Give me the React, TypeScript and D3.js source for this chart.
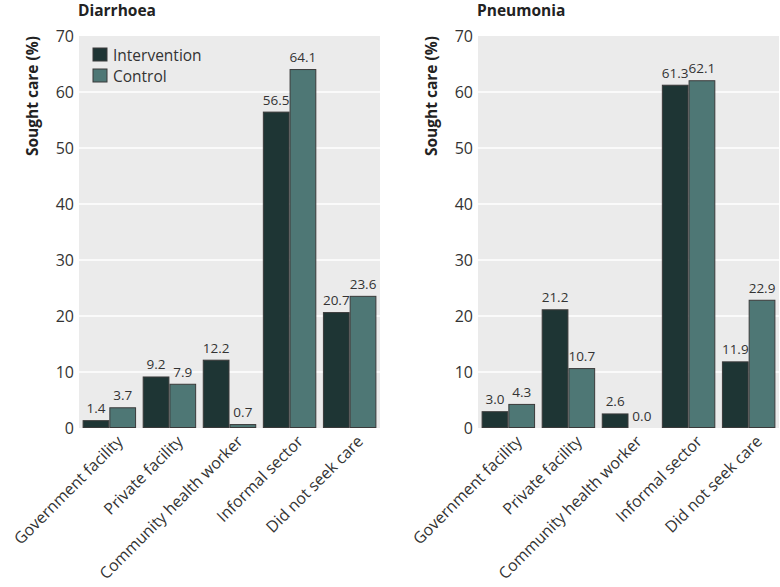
import React, { useEffect, useRef } from "react";
import * as d3 from "d3";

const categories = [
  "Government facility",
  "Private facility",
  "Community health worker",
  "Informal sector",
  "Did not seek care",
];
const series = ["Intervention", "Control"];
const diarrhoeaIntervention = [1.4, 9.2, 12.2, 56.5, 20.7];
const diarrhoeaControl = [3.7, 7.9, 0.7, 64.1, 23.6];
const pneumoniaIntervention = [3.0, 21.2, 2.6, 61.3, 11.9];
const pneumoniaControl = [4.3, 10.7, 0.0, 62.1, 22.9];
const yTicks = [0, 10, 20, 30, 40, 50, 60, 70];

const FONT = "'Open Sans', sans-serif";
const colors = ["#1e3534", "#4e7775"];
const margin = { top: 36, bottom: 159, left: 79, right: 0 };
const panelWidth = 399;
const plotWidth = 301;
const height = 587;

function Panel(props: Props) {
  const ref = useRef(null);

  useEffect(() => {
    const g = d3.select(ref.current);
    g.selectAll("*").remove();

    const chartHeight = height - margin.top - margin.bottom;
    const x0 = d3
      .scaleBand()
      .domain(categories)
      .range([margin.left, margin.left + plotWidth])
      .paddingInner(0.11)
      .paddingOuter(0.06);
    const x1 = d3
      .scaleBand()
      .domain(series)
      .range([0, x0.bandwidth()])
      .padding(0);
    const y = d3
      .scaleLinear()
      .domain([0, 70])
      .range([margin.top + chartHeight, margin.top]);

    g.append("rect")
      .attr("x", margin.left)
      .attr("y", margin.top)
      .attr("width", plotWidth)
      .attr("height", chartHeight)
      .attr("fill", "#ebebeb");

    g.append("g")
      .selectAll("line")
      .data(yTicks.slice(1, -1))
      .enter()
      .append("line")
      .attr("x1", margin.left)
      .attr("x2", margin.left + plotWidth)
      .attr("y1", (d) => y(d))
      .attr("y2", (d) => y(d))
      .attr("stroke", "#fff")
      .attr("stroke-width", 1.6);

    g.append("g")
      .selectAll("text")
      .data(yTicks)
      .enter()
      .append("text")
      .attr("x", margin.left - 5)
      .attr("y", (d) => y(d))
      .attr("dy", "0.36em")
      .attr("text-anchor", "end")
      .attr("font-size", 16)
      .attr("fill", "#333")
      .text((d) => d);

    g.append("text")
      .attr("transform", "translate(" + (margin.left - 41) + "," + margin.top + ") rotate(-90)")
      .attr("text-anchor", "end")
      .attr("font-size", 15.5)
      .attr("font-weight", "bold")
      .attr("fill", "#222")
      .text("Sought care (%)");

    g.append("text")
      .attr("x", margin.left - 1)
      .attr("y", 16)
      .attr("font-size", 15.5)
      .attr("font-weight", "bold")
      .attr("fill", "#222")
      .text(props.title);

    const rows = categories.map((c, i) => ({
      category: c,
      values: [props.intervention[i], props.control[i]],
    }));

    const groups = g
      .append("g")
      .selectAll("g")
      .data(rows)
      .enter()
      .append("g")
      .attr("transform", (d) => "translate(" + x0(d.category) + ",0)");

    groups
      .selectAll("rect")
      .data((d) => d.values.map((v, k) => ({ key: series[k], value: v, k })))
      .enter()
      .append("rect")
      .attr("x", (d) => (x1(d.key) as number) + 0.5)
      .attr("y", (d) => y(d.value) + 0.5)
      .attr("width", x1.bandwidth() - 1)
      .attr("height", (d) => Math.max(0, y(0) - y(d.value) - 1))
      .attr("fill", (d) => colors[d.k])
      .attr("stroke", (d) => (d.value > 0 ? "#3a3a3a" : "none"))
      .attr("stroke-width", 1);

    groups
      .selectAll("text")
      .data((d) => d.values.map((v, k) => ({ key: series[k], value: v, k })))
      .enter()
      .append("text")
      .attr("x", (d) => (x1(d.key) as number) + x1.bandwidth() / 2)
      .attr("y", (d) => y(d.value) - 7)
      .attr("text-anchor", "middle")
      .attr("font-size", 13.5)
      .attr("fill", "#333")
      .text((d) => d.value.toFixed(1));

    g.append("g")
      .selectAll("text")
      .data(categories)
      .enter()
      .append("text")
      .attr(
        "transform",
        (d) =>
          "translate(" + ((x0(d) as number) + x0.bandwidth() / 2 + 6) + "," + (y(0) + 6) + ") rotate(-45)"
      )
      .attr("text-anchor", "end")
      .attr("dy", "0.75em")
      .attr("font-size", 16)
      .attr("fill", "#333")
      .text((d) => d);

    if (props.legend) {
      const lg = g
        .append("g")
        .selectAll("g")
        .data(series)
        .enter()
        .append("g")
        .attr("transform", (d, i) => "translate(" + (margin.left + 14) + "," + (margin.top + 12 + i * 21) + ")");
      lg.append("rect")
        .attr("width", 14)
        .attr("height", 13)
        .attr("fill", (d, i) => colors[i])
        .attr("stroke", "#3a3a3a");
      lg.append("text")
        .attr("x", 20)
        .attr("y", 7)
        .attr("dy", "0.36em")
        .attr("font-size", 15.5)
        .attr("fill", "#333")
        .text((d) => d);
    }
  }, [props]);

  return <g ref={ref} transform={"translate(" + props.offset + ",0)"} />;
}

interface Props {
  title: string;
  intervention: number[];
  control: number[];
  legend?: boolean;
  offset: number;
}

export default function App() {
  return (
    <svg
      width={780}
      height={height}
      style={{ position: "absolute", left: 0, top: 0, fontFamily: FONT, background: "#fff" }}
    >
      <Panel title="Diarrhoea" intervention={diarrhoeaIntervention} control={diarrhoeaControl} legend offset={0} />
      <Panel title="Pneumonia" intervention={pneumoniaIntervention} control={pneumoniaControl} offset={panelWidth} />
    </svg>
  );
}
